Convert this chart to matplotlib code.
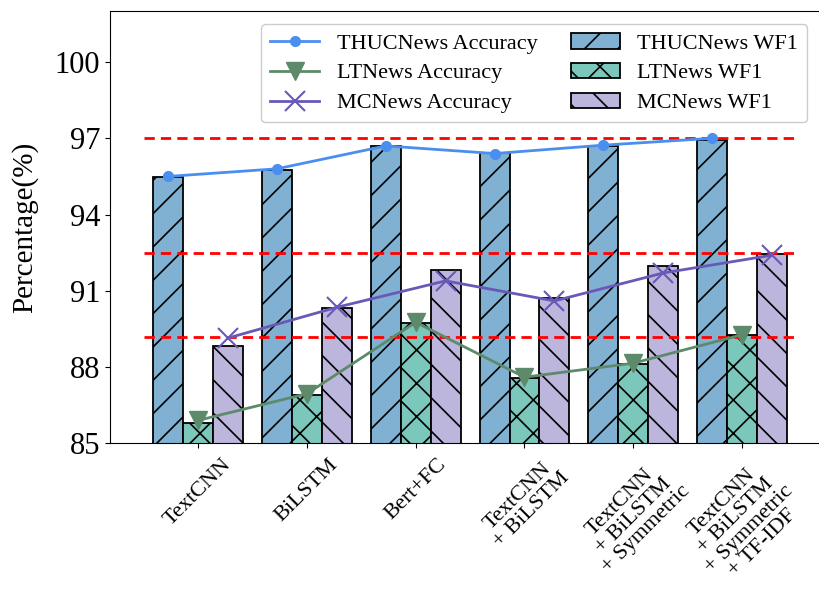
import matplotlib.pyplot as plt
import numpy as np

plt.rcParams['font.family'] = ['Liberation Serif', 'DejaVu Serif']
plt.rcParams['hatch.linewidth'] = 1.2

# Models and scores (%)
models = ['TextCNN', 'BiLSTM', 'Bert+FC',
          'TextCNN\n+ BiLSTM',
          'TextCNN\n+ BiLSTM\n+ Symmetric',
          'TextCNN\n+ BiLSTM\n+ Symmetric\n+ TF-IDF']

thuc_wf1 = [95.48, 95.75, 96.69, 96.43, 96.69, 96.95]
lt_wf1 = [85.80, 86.90, 89.73, 87.58, 88.10, 89.24]
mc_wf1 = [88.83, 90.31, 91.81, 90.71, 91.97, 92.44]

thuc_acc = [95.50, 95.80, 96.70, 96.40, 96.73, 97.00]
lt_acc = [85.90, 86.95, 89.76, 87.60, 88.15, 89.27]
mc_acc = [89.14, 90.35, 91.39, 90.60, 91.70, 92.40]

ref_levels = [97.0, 92.5, 89.2]

x = np.arange(len(models))
w = 0.275

fig = plt.figure(figsize=(8.2, 5.91), dpi=100)
ax = fig.add_axes([110 / 820, 0.25, 712 / 820, 0.731])

ax.bar(x - w, thuc_wf1, w, color='#80b1d3', edgecolor='black', linewidth=1.3,
       hatch='/', label='THUCNews WF1', zorder=2)
ax.bar(x, lt_wf1, w, color='#7cc7bb', edgecolor='black', linewidth=1.3,
       hatch='x', label='LTNews WF1', zorder=2)
ax.bar(x + w, mc_wf1, w, color='#bcb5dc', edgecolor='black', linewidth=1.3,
       hatch='\\', label='MCNews WF1', zorder=2)

ax.plot(x - w, thuc_acc, color='#4a8ff0', marker='o', markersize=7,
        linewidth=2, label='THUCNews Accuracy', zorder=4)
ax.plot(x, lt_acc, color='#5d8a6a', marker='v', markersize=13,
        linewidth=2, label='LTNews Accuracy', zorder=4)
ax.plot(x + w, mc_acc, color='#6a58b8', marker='x', markersize=14,
        markeredgewidth=1.5, linewidth=2, label='MCNews Accuracy', zorder=4)

# threshold lines
for lv in ref_levels:
    ax.hlines(lv, -0.5, 5.5, colors='red', linestyles=(0, (3.7, 2.2)),
              linewidth=2, zorder=3)

ax.set_xlim(-0.81, 5.735)
ax.set_ylim(85, 102)
ax.set_yticks([85, 88, 91, 94, 97, 100])
ax.tick_params(axis='y', labelsize=22)
ax.tick_params(axis='x', pad=5)
ax.set_xticks(x)
ax.set_xticklabels(models, rotation=45, ha='center', fontsize=16,
                   linespacing=1.0)
ax.set_ylabel('Percentage(%)', fontsize=21, labelpad=12)

ax.legend(ncol=2, loc='upper right', bbox_to_anchor=(0.998, 0.978),
          bbox_transform=fig.transFigure, fontsize=16, columnspacing=1.5,
          handlelength=2.2, labelspacing=0.42, framealpha=1)

fig.savefig('out.png', dpi=100)
